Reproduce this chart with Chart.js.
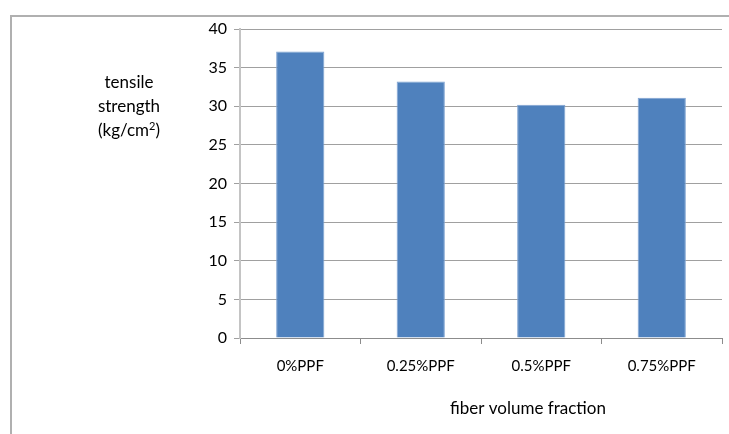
<!DOCTYPE html>
<html>
<head>
<meta charset="utf-8">
<script src="https://cdn.jsdelivr.net/npm/chart.js@4"></script>
<style>
html,body{margin:0;padding:0;background:#fff;}
#wrap{position:relative;width:729px;height:434px;overflow:hidden;}
#frame{position:absolute;left:10px;top:15px;width:800px;height:500px;border-left:2px solid #b0b0b0;border-top:2px solid #b0b0b0;box-sizing:border-box;}
canvas{position:absolute;left:0;top:0;}
</style>
</head>
<body>
<div id="wrap">
<div id="frame"></div>
<canvas id="c" width="729" height="434"></canvas>
</div>
<script>
const categories = ["0%PPF", "0.25%PPF", "0.5%PPF", "0.75%PPF"];
const tensileStrength = [37.1, 33.2, 30.2, 31.1];
const yTicks = [0, 5, 10, 15, 20, 25, 30, 35, 40];
// each title line: list of [text, isSuperscript]
const yTitleLines = [[["tensile", false]], [["strength", false]], [["(kg/cm", false], ["2", true], [")", false]]];
const xTitle = "fiber volume fraction";

const FONT = "Lato, 'Open Sans', sans-serif";

const titlePlugin = {
  id: 'titles',
  afterDraw(chart) {
    const ctx = chart.ctx;
    const area = chart.chartArea;
    ctx.save();
    ctx.fillStyle = '#000';
    ctx.textBaseline = 'middle';
    const cx = area.left - 111;
    const normal = '17px ' + FONT, sup = '11px ' + FONT;
    yTitleLines.forEach((parts, i) => {
      const y = 83 + i * 24;
      let w = 0;
      parts.forEach(([t, s]) => { ctx.font = s ? sup : normal; w += ctx.measureText(t).width; });
      let x = cx - w / 2;
      ctx.textAlign = 'left';
      parts.forEach(([t, s]) => {
        ctx.font = s ? sup : normal;
        ctx.fillText(t, x, s ? y - 5 : y);
        x += ctx.measureText(t).width;
      });
    });
    ctx.font = normal;
    ctx.textAlign = 'center';
    ctx.fillText(xTitle, (area.left + area.right) / 2 + 47, 409);
    ctx.restore();
  }
};

new Chart(document.getElementById('c'), {
  type: 'bar',
  data: {
    labels: categories,
    datasets: [{
      data: tensileStrength,
      backgroundColor: '#4F81BD',
      borderColor: '#7FA3D2',
      borderWidth: 1,
      barPercentage: 0.4,
      categoryPercentage: 1.0
    }]
  },
  options: {
    responsive: false,
    animation: false,
    devicePixelRatio: 1,
    layout: { padding: { left: 192, top: 29, right: 7, bottom: 0 } },
    plugins: { legend: { display: false }, tooltip: { enabled: false } },
    scales: {
      x: {
        grid: { display: true, drawOnChartArea: false, drawTicks: true, tickLength: 6, color: '#8c8c8c', offset: true },
        border: { color: '#8c8c8c', width: 1 },
        ticks: { color: '#000', font: { family: FONT, size: 15 }, padding: 13, maxRotation: 0 },
        afterFit(s) { s.height = 96; }
      },
      y: {
        min: 0, max: 40,
        afterBuildTicks(s) { s.ticks = yTicks.map(v => ({ value: v })); },
        grid: { color: '#a0a0a0', tickLength: 6, drawTicks: true },
        border: { color: '#c4c4c4', width: 2 },
        ticks: { color: '#000', font: { family: FONT, size: 16 }, padding: 7 },
        afterFit(s) { s.width = 48; }
      }
    }
  },
  plugins: [titlePlugin]
});
</script>
</body>
</html>
